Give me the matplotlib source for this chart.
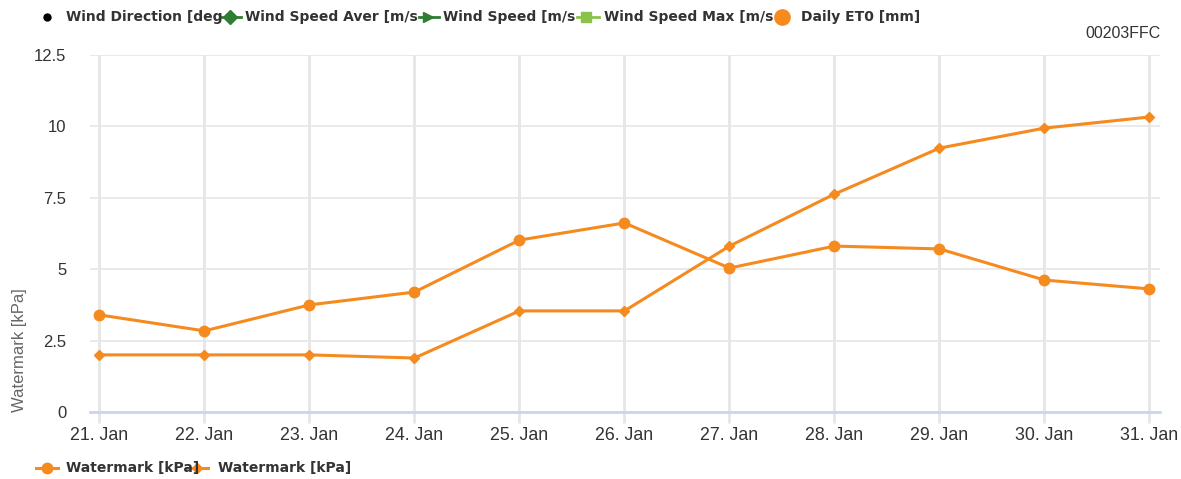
import matplotlib
matplotlib.use("Agg")
import matplotlib.pyplot as plt
from matplotlib.lines import Line2D

dates = ["21. Jan", "22. Jan", "23. Jan", "24. Jan", "25. Jan", "26. Jan",
         "27. Jan", "28. Jan", "29. Jan", "30. Jan", "31. Jan"]
watermark_a = [3.4, 2.84, 3.75, 4.2, 6.02, 6.62, 5.04, 5.81, 5.71, 4.62, 4.31]
watermark_b = [2.0, 2.0, 2.0, 1.89, 3.54, 3.54, 5.81, 7.63, 9.24, 9.94, 10.33]
yticks = [0, 2.5, 5, 7.5, 10, 12.5]
ytick_labels = ["0", "2.5", "5", "7.5", "10", "12.5"]

ORANGE = "#F58A1F"
W, H = 1181, 479
fig = plt.figure(figsize=(W / 100, H / 100), dpi=100)
plt.rcParams['font.family'] = ['Liberation Sans', 'DejaVu Sans']
LEG_FONT = dict(family='DejaVu Sans', fontsize=10, fontweight='bold', color='#333333')

ax = fig.add_axes([90 / W, 1 - 412 / H, (1160 - 90) / W, (412 - 55) / H])
x = list(range(len(dates)))
ax.plot(x, watermark_a, color=ORANGE, lw=2.2, marker='o', ms=7.5, zorder=5, clip_on=False)
ax.plot(x, watermark_b, color=ORANGE, lw=2.2, marker='D', ms=5, zorder=5, clip_on=False)

ax.set_xlim(-0.09, 10.1)
ax.set_ylim(0, 12.5)
ax.set_yticks(yticks)
ax.set_yticklabels(ytick_labels)
ax.set_xticks(x)
ax.set_xticklabels(dates)
ax.grid(axis='y', color='#e6e6e6', lw=1.2)
ax.grid(axis='x', color='#e6e6e6', lw=2)
ax.set_axisbelow(True)
for s in ['top', 'right', 'left']:
    ax.spines[s].set_visible(False)
ax.spines['bottom'].set_color('#ccd6eb')
ax.spines['bottom'].set_linewidth(2)
ax.tick_params(axis='y', length=0, pad=17, labelsize=12, labelcolor='#333333')
ax.tick_params(axis='x', length=8, width=2, color='#e6e6e6', pad=3, labelsize=12.8,
               labelcolor='#333333')
fig.text(12 / W, 1 - 350 / H, "Watermark [kPa]", rotation=90, ha='left', va='center',
         fontsize=12, color='#666666')


def fx(px):
    return px / W


def fy(py):
    return 1 - py / H


# top legend
fig.add_artist(Line2D([fx(47)], [fy(17)], marker='o', color='black', ms=5, ls='none'))
top_items = [
    (66, "Wind Direction [deg"),
    (245, "Wind Speed Aver [m/s"),
    (443, "Wind Speed [m/s"),
    (604, "Wind Speed Max [m/s"),
    (801, "Daily ET0 [mm]"),
]
for px, t in top_items:
    fig.text(fx(px), fy(17), t, ha='left', va='center', **LEG_FONT)
fig.add_artist(Line2D([fx(221), fx(241)], [fy(17), fy(17)], color='#2f7d32', lw=2))
fig.add_artist(Line2D([fx(230)], [fy(17)], marker='D', color='#2f7d32', ms=7, ls='none'))
fig.add_artist(Line2D([fx(419), fx(439)], [fy(17), fy(17)], color='#2f7d32', lw=2))
fig.add_artist(Line2D([fx(428)], [fy(17)], marker='>', color='#2f7d32', ms=7, ls='none'))
fig.add_artist(Line2D([fx(577), fx(599)], [fy(17), fy(17)], color='#8bc34a', lw=2))
fig.add_artist(Line2D([fx(586)], [fy(17)], marker='s', color='#8bc34a', ms=7, ls='none'))
fig.add_artist(Line2D([fx(782)], [fy(17)], marker='o', color=ORANGE, ms=11, ls='none'))

# bottom legend
fig.text(fx(66), fy(468), "Watermark [kPa]", ha='left', va='center', **LEG_FONT)
fig.text(fx(218), fy(468), "Watermark [kPa]", ha='left', va='center', **LEG_FONT)
fig.add_artist(Line2D([fx(36), fx(58)], [fy(468), fy(468)], color=ORANGE, lw=2.2))
fig.add_artist(Line2D([fx(47)], [fy(468)], marker='o', color=ORANGE, ms=7.5, ls='none'))
fig.add_artist(Line2D([fx(186), fx(208)], [fy(468), fy(468)], color=ORANGE, lw=2.2))
fig.add_artist(Line2D([fx(197)], [fy(468)], marker='D', color=ORANGE, ms=5, ls='none'))

fig.text(fx(1161), fy(33), "00203FFC", fontsize=11.5, color='#333333', ha='right', va='center')

fig.savefig("out.png", dpi=100)
